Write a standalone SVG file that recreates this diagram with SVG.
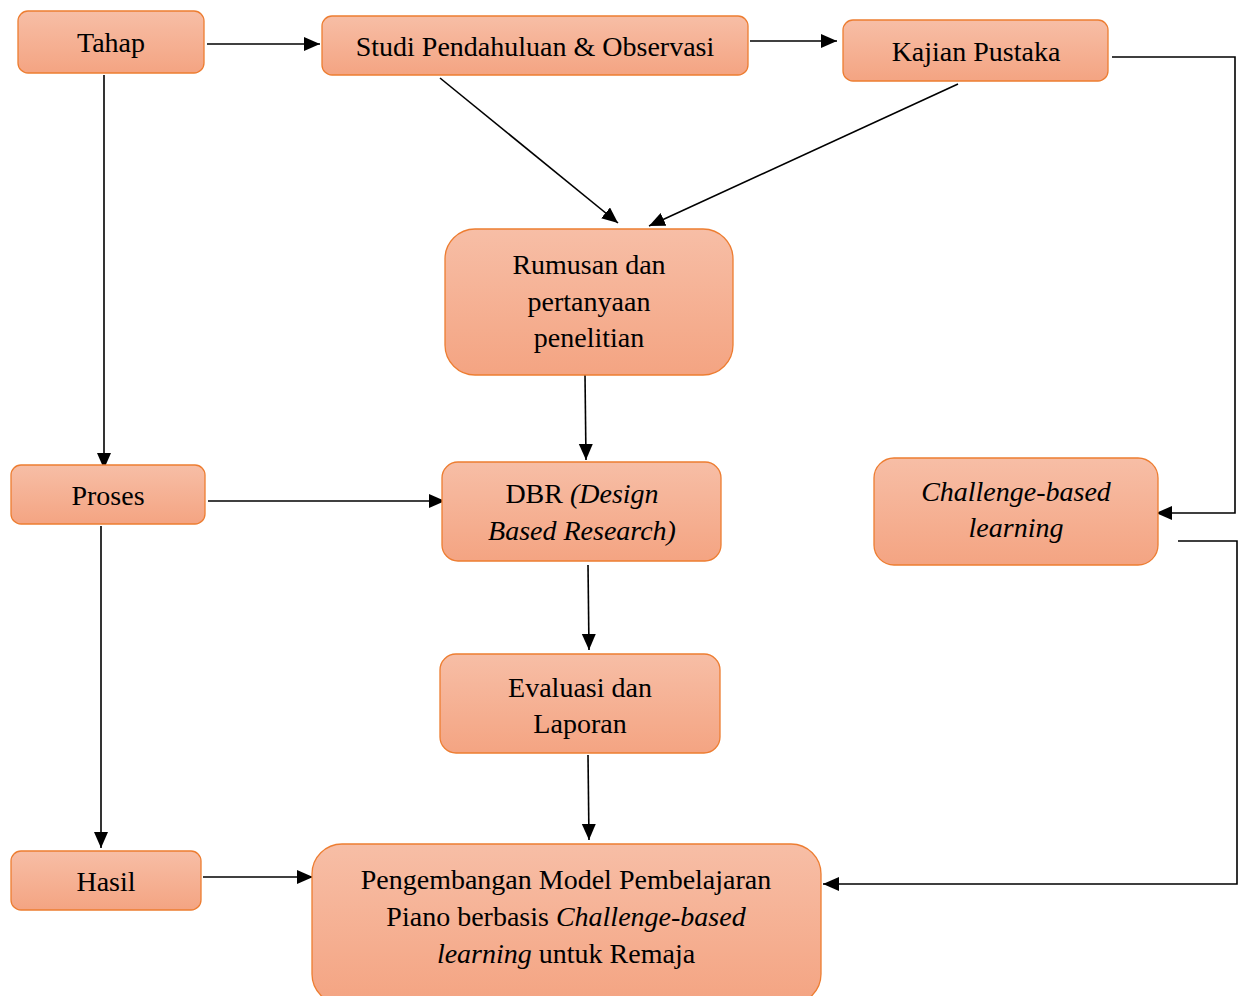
<svg xmlns="http://www.w3.org/2000/svg" width="1242" height="996" viewBox="0 0 1242 996">
<defs>
<linearGradient id="g" x1="0" y1="0" x2="0" y2="1">
<stop offset="0" stop-color="#F7BEA6"/>
<stop offset="1" stop-color="#F4A482"/>
</linearGradient>
<marker id="ah" markerUnits="userSpaceOnUse" markerWidth="17" markerHeight="15" refX="16" refY="7" orient="auto">
<path d="M0,0 L16,7 L0,14 Z" fill="#000"/>
</marker>
</defs>
<style>
.box{fill:url(#g);stroke:#ED7D31;stroke-width:1.3}
.t{font-family:'Liberation Serif','Times New Roman',serif;font-size:28px;fill:#000;text-anchor:middle}
.i{font-style:italic}
.c{fill:none;stroke:#000;stroke-width:1.6}
.a{marker-end:url(#ah)}
</style>
<g id="connectors">
<path class="c a" d="M207,44 L320,44"/>
<path class="c a" d="M750,41 L837,41"/>
<path class="c a" d="M104,75 L104,469"/>
<path class="c a" d="M440,78 L618,223"/>
<path class="c a" d="M958,84 L649,226"/>
<path class="c a" d="M1112,57 L1235,57 L1235,513 L1156,513"/>
<path class="c a" d="M585,375 L586,460"/>
<path class="c a" d="M208,501 L445,501"/>
<path class="c a" d="M101,526 L101,848"/>
<path class="c a" d="M588,565 L589,650"/>
<path class="c a" d="M588,755 L589,840"/>
<path class="c a" d="M203,877 L313,877"/>
<path class="c a" d="M1178,541 L1237,541 L1237,884 L823,884"/>
</g>
<g id="tahap"><rect class="box" x="18" y="11" width="186" height="62" rx="10"/><text class="t" x="111" y="52">Tahap</text></g>
<g id="studi"><rect class="box" x="322" y="16" width="426" height="59" rx="10"/><text class="t" x="535" y="56">Studi Pendahuluan &amp; Observasi</text></g>
<g id="kajian"><rect class="box" x="843" y="20" width="265" height="61" rx="10"/><text class="t" x="976" y="61">Kajian Pustaka</text></g>
<g id="rumusan"><rect class="box" x="445" y="229" width="288" height="146" rx="30"/><text class="t" x="589" y="274">Rumusan dan</text><text class="t" x="589" y="311">pertanyaan</text><text class="t" x="589" y="347">penelitian</text></g>
<g id="proses"><rect class="box" x="11" y="465" width="194" height="59" rx="10"/><text class="t" x="108" y="505">Proses</text></g>
<g id="dbr"><rect class="box" x="442" y="462" width="279" height="99" rx="16"/><text class="t" x="582" y="503">DBR <tspan class="i">(Design</tspan></text><text class="t i" x="582" y="540">Based Research)</text></g>
<g id="cbl"><rect class="box" x="874" y="458" width="284" height="107" rx="20"/><text class="t i" x="1016" y="501">Challenge-based</text><text class="t i" x="1016" y="537">learning</text></g>
<g id="evaluasi"><rect class="box" x="440" y="654" width="280" height="99" rx="16"/><text class="t" x="580" y="697">Evaluasi dan</text><text class="t" x="580" y="733">Laporan</text></g>
<g id="hasil"><rect class="box" x="11" y="851" width="190" height="59" rx="10"/><text class="t" x="106" y="891">Hasil</text></g>
<g id="pengembangan"><rect class="box" x="312" y="844" width="509" height="160" rx="30"/><text class="t" x="566" y="889">Pengembangan Model Pembelajaran</text><text class="t" x="566" y="926">Piano berbasis <tspan class="i">Challenge-based</tspan></text><text class="t" x="566" y="963"><tspan class="i">learning</tspan> untuk Remaja</text></g>
</svg>
